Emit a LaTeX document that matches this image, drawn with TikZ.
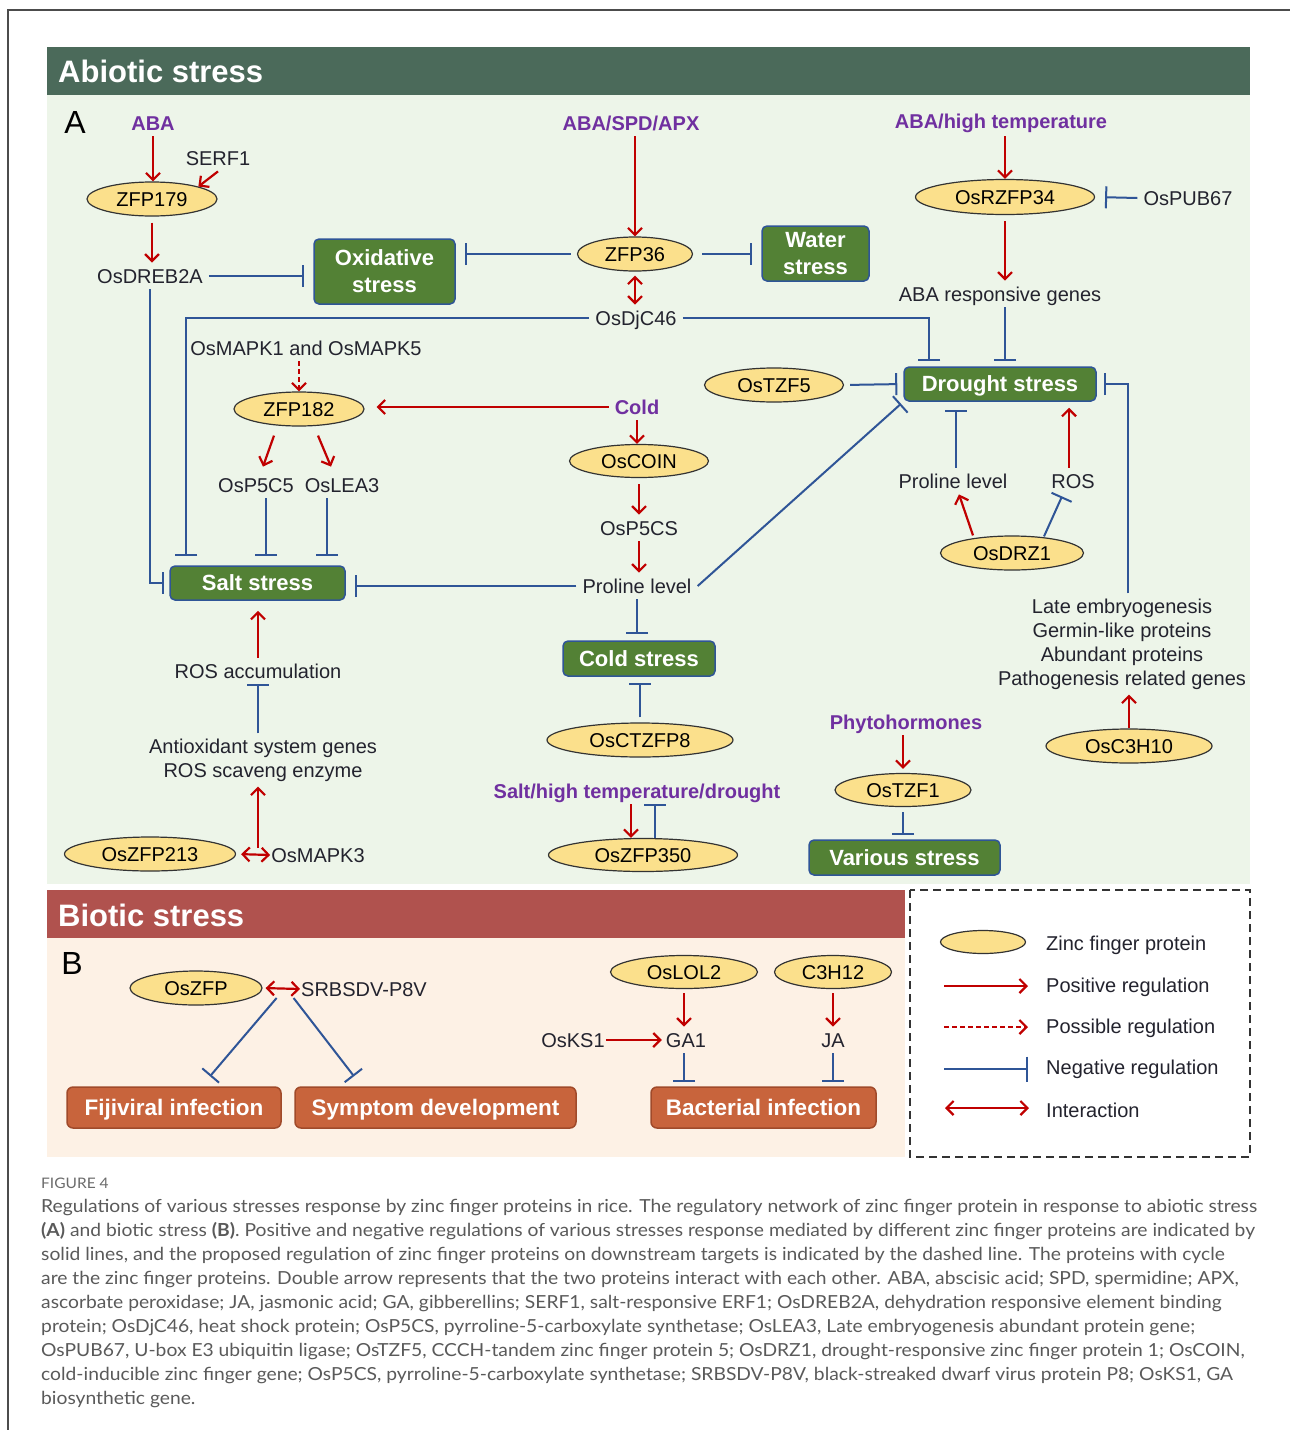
\documentclass[tikz,border=0pt]{standalone}
\usepackage{fontspec}
\setmainfont{Liberation Sans}
\newfontfamily\capfont[FakeStretch=1.07]{Lato}
\usetikzlibrary{shapes.geometric,arrows.meta,calc}
\definecolor{hdrA}{HTML}{4B6A5A}
\definecolor{bgA}{HTML}{EDF5E9}
\definecolor{hdrB}{HTML}{B0524E}
\definecolor{bgB}{HTML}{FDF1E5}
\definecolor{grn}{HTML}{538135}
\definecolor{blu}{HTML}{2F5597}
\definecolor{redc}{HTML}{C00000}
\definecolor{purp}{HTML}{7030A0}
\definecolor{ellf}{HTML}{FBE08C}
\definecolor{ellb}{HTML}{333333}
\definecolor{ora}{HTML}{C8643C}
\definecolor{obd}{HTML}{A04A2A}
\definecolor{tcol}{HTML}{23232E}
\definecolor{capc}{HTML}{5A5A5A}
\tikzset{
 txt/.style={font=\fontsize{20}{24}\selectfont, text=tcol, inner xsep=6pt, inner ysep=6pt, text height=14.4pt, text depth=0pt},
 txtm/.style={font=\fontsize{20}{24}\selectfont, text=tcol, inner xsep=6pt, inner ysep=5pt, align=center},
 sig/.style={txt, font=\bfseries\fontsize{20}{24}\selectfont, text=purp},
 zf/.style={ellipse, draw=ellb, fill=ellf, line width=1.2pt, inner sep=0pt, font=\fontsize{20}{24}\selectfont, text=black, text height=14.4pt, text depth=0pt},
 gbox/.style={rectangle, rounded corners=5pt, draw=blu, line width=1.5pt, fill=grn, text=white, font=\bfseries\fontsize{22}{27}\selectfont, align=center, inner sep=0pt},
 gbox1/.style={rectangle, rounded corners=5pt, draw=blu, line width=1.5pt, fill=grn, text=white, font=\bfseries\fontsize{22}{27}\selectfont, inner sep=0pt, text height=15.8pt, text depth=0pt},
 obox/.style={rectangle, rounded corners=6pt, draw=obd, line width=1.5pt, fill=ora, text=white, font=\bfseries\fontsize{22.5}{27}\selectfont, inner sep=0pt, text height=16.2pt, text depth=0pt},
 posarr/.style={draw=redc, line width=2.2pt, -{Straight Barb[length=7pt,width=14pt]}},
 possarr/.style={posarr, dash pattern=on 5pt off 3pt},
 intarr/.style={draw=redc, line width=2.2pt, {Straight Barb[length=7pt,width=14pt]}-{Straight Barb[length=7pt,width=14pt]}},
 inharr/.style={draw=blu, line width=2pt, -{Bar[width=22pt]}, shorten >=6pt},
 hdrt/.style={anchor=west, inner sep=0pt, text=white, font=\bfseries\fontsize{31}{36}\selectfont},
 bigl/.style={inner sep=0pt, font=\fontsize{32}{36}\selectfont, text=black},
 legt/.style={anchor=west, inner sep=0pt, font=\fontsize{20}{24}\selectfont, text=tcol},
 captxt/.style={anchor=west, inner sep=0pt, font=\capfont\fontsize{18}{20}\selectfont, text=capc},
}
\begin{document}
\begin{tikzpicture}[x=1pt,y=-1pt]
\useasboundingbox (0,0) rectangle (1290,1430);
\fill[white] (0,0) rectangle (1290,1430);
\draw[gray!60!black, line width=1.5pt] (8,1430) -- (8,10) -- (1290,10);
% panels
\fill[bgA] (47,95) rectangle (1250,884);
\fill[hdrA] (47,47) rectangle (1250,95);
\node[hdrt] (tA) at (58,71) {Abiotic stress};
\fill[bgB] (47,938) rectangle (905,1157);
\fill[hdrB] (47,890) rectangle (905,938);
\node[hdrt] (tB) at (58,915) {Biotic stress};
\node[bigl] (lA) at (75,122) {A};
\node[bigl] (lB) at (72,963) {B};

% ---- Panel A nodes
\node[sig] (ABA) at (153,123) {ABA};
\node[txt] (SERF1) at (218,158) {SERF1};
\node[zf, minimum width=130pt, minimum height=34pt] (ZFP179) at (152,199) {ZFP179};
\node[txt] (DREB) at (150,276) {OsDREB2A};
\node[gbox, minimum width=141pt, minimum height=65pt] (Oxi) at (384.5,271.5) {Oxidative\\stress};
\node[sig] (ASA) at (631,123) {ABA/SPD/APX};
\node[zf, minimum width=115pt, minimum height=34pt] (ZFP36) at (635,254) {ZFP36};
\node[gbox, minimum width=107pt, minimum height=55pt] (Water) at (815.5,253.5) {Water\\stress};
\node[txt] (DjC) at (636,318) {OsDjC46};
\node[sig] (AHT) at (1001,121) {ABA/high temperature};
\node[zf, minimum width=179pt, minimum height=35pt] (RZFP) at (1005,197) {OsRZFP34};
\node[txt] (PUB) at (1188,198) {OsPUB67};
\node[txt] (ABAr) at (1000,294) {ABA responsive genes};
\node[gbox1, minimum width=192pt, minimum height=34pt] (Drought) at (1000,384) {Drought stress};
\node[zf, minimum width=139pt, minimum height=34pt] (TZF5) at (774,385) {OsTZF5};
\node[txt] (MAPK15) at (306,348) {OsMAPK1 and OsMAPK5};
\node[zf, minimum width=130pt, minimum height=34pt] (ZFP182) at (299,409) {ZFP182};
\node[sig] (Cold) at (637,407) {Cold};
\node[zf, minimum width=139pt, minimum height=33pt] (COIN) at (639,461) {OsCOIN};
\node[txt] (P5CS) at (639,528) {OsP5CS};
\node[txt] (ProC) at (637,586) {Proline level};
\node[gbox1, minimum width=152pt, minimum height=35pt] (ColdS) at (639,658.5) {Cold stress};
\node[zf, minimum width=186pt, minimum height=34pt] (CTZFP8) at (640,740) {OsCTZFP8};
\node[txt] (P5C5) at (256,485) {OsP5C5};
\node[txt] (LEA3) at (342,485) {OsLEA3};
\node[gbox1, minimum width=175pt, minimum height=34pt] (Salt) at (257.5,583) {Salt stress};
\node[txt] (ROSacc) at (258,671) {ROS accumulation};
\node[txtm] (Antiox) at (263,760) {Antioxidant system genes\\ROS scaveng enzyme};
\node[zf, minimum width=171pt, minimum height=34pt] (ZFP213) at (150,854) {OsZFP213};
\node[txt, inner xsep=1pt] (MAPK3) at (318,855) {OsMAPK3};
\node[sig] (SHTD) at (637,791) {Salt/high temperature/drought};
\node[zf, minimum width=189pt, minimum height=33pt] (ZFP350) at (643,855) {OsZFP350};
\node[sig] (Phyto) at (906,722) {Phytohormones};
\node[zf, minimum width=136pt, minimum height=33pt] (TZF1) at (903,790) {OsTZF1};
\node[gbox1, minimum width=191pt, minimum height=35pt] (Various) at (904.5,857.5) {Various stress};
\node[txt] (ProR) at (953,481) {Proline level};
\node[txt] (ROS) at (1073,481) {ROS};
\node[zf, minimum width=143pt, minimum height=34pt] (DRZ1) at (1012,553) {OsDRZ1};
\node[txtm] (LEAg) at (1122,644) {Late embryogenesis\\Germin-like proteins\\Abundant proteins\\Pathogenesis related genes};
\node[zf, minimum width=166pt, minimum height=34pt] (C3H10) at (1129,746) {OsC3H10};

% ---- Panel A connectors
\draw[posarr] (ABA.south) -- (ABA.south |- ZFP179.north);
\draw[posarr] (SERF1.south) -- (ZFP179.north east);
\draw[posarr, shorten <=6pt] (ZFP179.south) -- (ZFP179.south |- DREB.north);
\draw[inharr, shorten >=9pt] (DREB.east) -- (DREB.east -| Oxi.west);
\draw[inharr, shorten <=6pt, shorten >=9pt] (ZFP36.west) -- (ZFP36.west -| Oxi.east);
\draw[inharr, shorten <=9pt, shorten >=9pt] (ZFP36.east) -- (ZFP36.east -| Water.west);
\draw[posarr] (ZFP36.north |- ASA.south) -- (ZFP36.north);
\draw[intarr, shorten <=4pt] (ZFP36.south) -- (ZFP36.south |- DjC.north);
\coordinate (djl) at ($(Salt.north west)+(17,0)$);
\draw[inharr, shorten >=9pt] (DjC.west) -| (djl);
\coordinate (djr) at ($(Drought.north west)+(26,0)$);
\draw[inharr, shorten >=5pt] (DjC.east) -| (djr);
\draw[inharr, shorten >=5pt] (DREB.south) |- (Salt.west);
\draw[posarr, shorten <=2pt] (RZFP.north |- AHT.south) -- (RZFP.north);
\draw[posarr, shorten <=6pt] (RZFP.south) -- (RZFP.south |- ABAr.north);
\draw[inharr, shorten >=5pt] (RZFP.south |- ABAr.south) -- (RZFP.south |- Drought.north);
\draw[inharr, shorten >=10pt] (PUB.west) -- (RZFP.east);
\draw[inharr, shorten <=6pt] (TZF5.east) -- (Drought.west);
\draw[possarr] (ZFP182.north |- MAPK15.south) -- (ZFP182.north);
\draw[posarr, shorten >=12pt] (Cold.west) -- (Cold.west -| ZFP182.east);
\coordinate (z1s) at ($(ZFP182.south)+(-25,9)$);
\coordinate (z1e) at ($(P5C5.north)+(7,-5)$);
\draw[posarr] (z1s) -- (z1e);
\coordinate (z2s) at ($(ZFP182.south)+(19,9)$);
\coordinate (z2e) at ($(LEA3.north)+(-11,-5)$);
\draw[posarr] (z2s) -- (z2e);
\coordinate (p5s) at ($(P5C5.south)+(10,0)$);
\draw[inharr, shorten >=9pt] (p5s) -- (p5s |- Salt.north);
\coordinate (l3s) at ($(LEA3.south)+(-15,0)$);
\draw[inharr, shorten >=9pt] (l3s) -- (l3s |- Salt.north);
\draw[posarr] (Cold.south) -- (Cold.south |- COIN.north);
\draw[posarr, shorten <=6pt] (COIN.south) -- (COIN.south |- P5CS.north);
\draw[posarr] (P5CS.south) -- (P5CS.south |- ProC.north);
\draw[inharr] (ProC.south) -- (ProC.south |- ColdS.north);
\draw[inharr, shorten <=5pt] (CTZFP8.north) -- (CTZFP8.north |- ColdS.south);
\draw[inharr, shorten >=9pt] (ProC.west) -- (ProC.west -| Salt.east);
\draw[inharr, shorten >=3pt] (ProC.east) -- (Drought.south west);
\draw[posarr, shorten >=10pt] (ROSacc.north) -- (ROSacc.north |- Salt.south);
\draw[inharr, shorten >=0pt] (ROSacc.south |- Antiox.north) -- (ROSacc.south);
\draw[intarr, shorten <=5pt] (ZFP213.east) -- (MAPK3.west);
\coordinate (m3) at (ROSacc.south |- ZFP213.east);
\draw[posarr, shorten <=6pt] (m3) -- (m3 |- Antiox.south);
\coordinate (sh1) at ($(SHTD.south)+(-6,0)$);
\draw[posarr] (sh1) -- (sh1 |- ZFP350.north);
\coordinate (sh2) at ($(ZFP350.north)+(12,0)$);
\draw[inharr, shorten >=0pt] (sh2) -- (sh2 |- SHTD.south);
\draw[posarr, shorten >=4pt] (TZF1.north |- Phyto.south) -- (TZF1.north);
\draw[inharr, shorten <=5pt, shorten >=4pt] (TZF1.south) -- (TZF1.south |- Various.north);
\coordinate (prn) at ($(ProR.north)+(3,0)$);
\draw[inharr, shorten >=8pt] (prn) -- (prn |- Drought.south);
\coordinate (rsn) at ($(ROS.north)+(-4,0)$);
\draw[posarr, shorten >=6pt] (rsn) -- (rsn |- Drought.south);
\coordinate (d1s) at ($(DRZ1.north)+(-39,0)$);
\coordinate (d1e) at ($(ProR.south)+(6,0)$);
\draw[posarr] (d1s) -- (d1e);
\coordinate (d2s) at ($(DRZ1.north)+(32,1)$);
\coordinate (d2e) at ($(ROS.south)+(-11,2)$);
\draw[inharr, shorten >=0pt] (d2s) -- (d2e);
\coordinate (lg) at ($(LEAg.north)+(6,0)$);
\draw[inharr, shorten >=7pt] (lg) |- (Drought.east);
\draw[posarr] (C3H10.north) -- (C3H10.north |- LEAg.south);

% ---- Panel B
\node[zf, minimum width=132pt, minimum height=34pt] (OsZFP) at (196,988) {OsZFP};
\node[txt, inner xsep=1pt] (P8V) at (364,989) {SRBSDV-P8V};
\node[obox, minimum width=214pt, minimum height=41pt] (Fiji) at (174,1107.5) {Fijiviral infection};
\node[obox, minimum width=281pt, minimum height=41pt] (Symp) at (435.5,1107.5) {Symptom development};
\node[obox, minimum width=225pt, minimum height=41pt] (Bact) at (763.5,1107.5) {Bacterial infection};
\node[zf, minimum width=147pt, minimum height=33pt] (LOL2) at (684,972) {OsLOL2};
\node[zf, minimum width=117pt, minimum height=33pt] (C3H12) at (833,972) {C3H12};
\node[txt, inner xsep=1pt] (KS1) at (573,1040) {OsKS1};
\node[txt, inner xsep=4pt] (GA1) at (686,1040) {GA1};
\node[txt] (JA) at (833,1040) {JA};
\draw[intarr, shorten <=3pt] (OsZFP.east) -- (P8V.west);
\coordinate (iz1) at ($(OsZFP.east)+(14,10)$);
\coordinate (iz2) at ($(OsZFP.east)+(31,10)$);
\coordinate (fje) at ($(Fiji.north)+(36,-10)$);
\coordinate (sye) at ($(Symp.north)+(-81.5,-10)$);
\draw[inharr, shorten >=0pt] (iz1) -- (fje);
\draw[inharr, shorten >=0pt] (iz2) -- (sye);
\draw[posarr] (KS1.east) -- (GA1.west);
\draw[posarr, shorten <=4pt] (LOL2.south) -- (LOL2.south |- GA1.north);
\draw[posarr, shorten <=4pt] (C3H12.south) -- (C3H12.south |- JA.north);
\draw[inharr, shorten >=4pt] (LOL2.south |- GA1.south) -- (LOL2.south |- Bact.north);
\draw[inharr, shorten >=4pt] (JA.south) -- (JA.south |- Bact.north);

% ---- Legend
\draw[black!80, line width=2.5pt, dash pattern=on 8pt off 5pt] (910,890) rectangle (1250,1157);
\node[zf, minimum width=85pt, minimum height=23pt] (Lz) at (983,942) {};
\node[legt] (Lt1) at (1046,945) {Zinc finger protein};
\coordinate (L2a) at (944,986); \coordinate (L2b) at (1028,986);
\draw[posarr] (L2a) -- (L2b);
\node[legt] (Lt2) at (1046,987) {Positive regulation};
\coordinate (L3a) at (944,1027); \coordinate (L3b) at (1028,1027);
\draw[possarr] (L3a) -- (L3b);
\node[legt] (Lt3) at (1046,1028) {Possible regulation};
\coordinate (L4a) at (944,1069); \coordinate (L4b) at (1028,1069);
\draw[inharr, shorten >=0pt, -{Bar[width=25pt]}] (L4a) -- (L4b);
\node[legt] (Lt4) at (1046,1069) {Negative regulation};
\coordinate (L5a) at (945,1108); \coordinate (L5b) at (1029,1108);
\draw[intarr] (L5a) -- (L5b);
\node[legt] (Lt5) at (1046,1110) {Interaction};

% ---- Caption
\node[captxt, font=\capfont\fontsize{14.5}{16}\selectfont, text=capc!90] (fig) at (41,1183) {FIGURE 4};
\node[captxt] (c1) at (41,1207) {Regulations of various stresses response by zinc finger proteins in rice. The regulatory network of zinc finger protein in response to abiotic stress};
\node[captxt] (c2) at (41,1231) {\textbf{(A)} and biotic stress \textbf{(B)}. Positive and negative regulations of various stresses response mediated by different zinc finger proteins are indicated by};
\node[captxt] (c3) at (41,1255) {solid lines, and the proposed regulation of zinc finger proteins on downstream targets is indicated by the dashed line. The proteins with cycle};
\node[captxt] (c4) at (41,1279) {are the zinc finger proteins. Double arrow represents that the two proteins interact with each other. ABA, abscisic acid; SPD, spermidine; APX,};
\node[captxt] (c5) at (41,1303) {ascorbate peroxidase; JA, jasmonic acid; GA, gibberellins; SERF1, salt-responsive ERF1; OsDREB2A, dehydration responsive element binding};
\node[captxt] (c6) at (41,1327) {protein; OsDjC46, heat shock protein; OsP5CS, pyrroline-5-carboxylate synthetase; OsLEA3, Late embryogenesis abundant protein gene;};
\node[captxt] (c7) at (41,1351) {OsPUB67, U-box E3 ubiquitin ligase; OsTZF5, CCCH-tandem zinc finger protein 5; OsDRZ1, drought-responsive zinc finger protein 1; OsCOIN,};
\node[captxt] (c8) at (41,1375) {cold-inducible zinc finger gene; OsP5CS, pyrroline-5-carboxylate synthetase; SRBSDV-P8V, black-streaked dwarf virus protein P8; OsKS1, GA};
\node[captxt] (c9) at (41,1399) {biosynthetic gene.};
\end{tikzpicture}
\end{document}
